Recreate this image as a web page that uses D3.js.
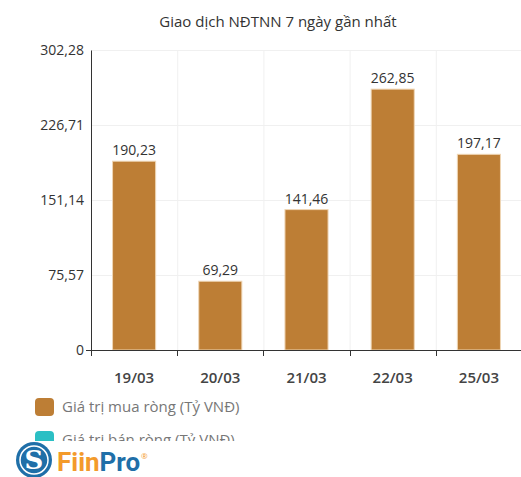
<!DOCTYPE html>
<html>
<head>
<meta charset="utf-8">
<script src="https://cdn.jsdelivr.net/npm/d3@7"></script>
<style>
  body { margin: 0; background: #fff; }
  svg { display: block; font-family: "Open Sans", "Noto Sans", sans-serif; }
</style>
</head>
<body>
<svg id="chart" width="521" height="477"></svg>
<script>
const dates = ["19/03", "20/03", "21/03", "22/03", "25/03"];
const buyValues = [190.23, 69.29, 141.46, 262.85, 197.17];
const yTicks = [0, 75.57, 151.14, 226.71, 302.28];
const seriesNames = ["Giá trị mua ròng (Tỷ VNĐ)", "Giá trị bán ròng (Tỷ VNĐ)"];
const seriesColors = ["#bd7e35", "#2bbfc4"];

const fmt = v => v === 0 ? "0" : d3.format(".2f")(v).replace(".", ",");

const svg = d3.select("#chart");
const margin = {top: 50, left: 91, bottom: 350, right: 522};

const x = d3.scaleBand()
    .domain(dates)
    .range([margin.left, margin.right])
    .paddingInner(0.5)
    .paddingOuter(0.25);

const y = d3.scaleLinear()
    .domain([0, d3.max(yTicks)])
    .range([margin.bottom, margin.top]);

// title
svg.append("text")
    .attr("x", 278)
    .attr("y", 27)
    .attr("text-anchor", "middle")
    .style("font-size", "15px")
    .style("fill", "#333")
    .text("Giao dịch NĐTNN 7 ngày gần nhất");

// grid
const grid = svg.append("g");
grid.selectAll(".hgrid")
    .data(yTicks.slice(1))
    .enter().append("line")
    .attr("x1", margin.left).attr("x2", margin.right)
    .attr("y1", d => y(d) + 0.5).attr("y2", d => y(d) + 0.5)
    .style("stroke", "#f0f0f0");
grid.selectAll(".vgrid")
    .data(dates.slice(1))
    .enter().append("line")
    .attr("x1", d => x(d) - x.step() * x.paddingInner() / 2 + 0.5)
    .attr("x2", d => x(d) - x.step() * x.paddingInner() / 2 + 0.5)
    .attr("y1", margin.top).attr("y2", margin.bottom)
    .style("stroke", "#f0f0f0");

// bars
svg.selectAll(".bar")
    .data(buyValues)
    .enter().append("rect")
    .attr("class", "bar")
    .attr("x", (d, i) => x(dates[i]))
    .attr("y", d => y(d))
    .attr("width", x.bandwidth())
    .attr("height", d => y(0) - y(d))
    .style("fill", seriesColors[0])
    .style("stroke", "#efd6b5")
    .style("stroke-width", 1);

// value labels
svg.selectAll(".val")
    .data(buyValues)
    .enter().append("text")
    .attr("x", (d, i) => x(dates[i]) + x.bandwidth() / 2)
    .attr("y", d => y(d) - 6)
    .attr("text-anchor", "middle")
    .style("font-size", "14px")
    .style("fill", "#333")
    .text(fmt);

// y axis
const yAxis = svg.append("g")
    .attr("transform", `translate(${margin.left},0)`)
    .call(d3.axisLeft(y).tickValues(yTicks).tickFormat(fmt).tickSize(0).tickPadding(7));
yAxis.select(".domain").style("stroke", "#333");
yAxis.selectAll("text")
    .style("font-size", "14px")
    .style("fill", "#333")
    .style("font-family", "\"Open Sans\", sans-serif");

// x axis
const bandEdges = dates.map(d => x(d) - x.step() * x.paddingInner() / 2);
const xAxis = svg.append("g")
    .attr("transform", `translate(0,${margin.bottom})`);
xAxis.append("line")
    .attr("x1", margin.left - 5).attr("x2", margin.right)
    .attr("y1", 0.5).attr("y2", 0.5)
    .style("stroke", "#333");
xAxis.selectAll(".tick")
    .data(bandEdges)
    .enter().append("line")
    .attr("x1", d => Math.round(d) + 0.5).attr("x2", d => Math.round(d) + 0.5)
    .attr("y1", 0).attr("y2", 6)
    .style("stroke", "#333");
xAxis.selectAll(".lbl")
    .data(dates)
    .enter().append("text")
    .attr("x", d => x(d) + x.bandwidth() / 2)
    .attr("y", 33)
    .attr("text-anchor", "middle")
    .style("font-size", "15px")
    .style("font-weight", "600")
    .style("fill", "#444")
    .text(d => d);

// legend, clipped like the reference
svg.append("clipPath").attr("id", "legclip")
    .append("rect").attr("x", 0).attr("y", 385).attr("width", 521).attr("height", 56);
const legend = svg.append("g").attr("clip-path", "url(#legclip)")
    .selectAll(".leg")
    .data(seriesNames)
    .enter().append("g")
    .attr("transform", (d, i) => `translate(35,${398 + i * 33})`);
legend.append("rect")
    .attr("width", 19).attr("height", 18)
    .attr("rx", 4)
    .style("fill", (d, i) => seriesColors[i]);
legend.append("text")
    .attr("x", 27).attr("y", 14)
    .style("font-size", "15px")
    .style("fill", "#777")
    .text(d => d);

// logo
const logo = svg.append("g").attr("transform", "translate(34,460)");
logo.append("circle").attr("r", 18).style("fill", "#1f6fa8");
logo.append("circle").attr("r", 14).style("fill", "none").style("stroke", "#fff").style("stroke-width", 1.5);
logo.append("text")
    .attr("y", 9).attr("text-anchor", "middle")
    .style("font-size", "26px").style("font-weight", "bold")
    .style("font-family", "\"DejaVu Serif\", serif")
    .style("fill", "#fff")
    .text("S");
const brand = svg.append("text")
    .attr("x", 57).attr("y", 471)
    .style("font-size", "26px").style("font-weight", "bold")
    .style("font-family", "Roboto, sans-serif");
brand.append("tspan").style("fill", "#f39a2b").text("Fiin");
brand.append("tspan").style("fill", "#1f6fa8").text("Pro");
svg.append("text")
    .attr("x", 141).attr("y", 459)
    .style("font-size", "8px")
    .style("fill", "#f39a2b")
    .text("®");
</script>
</body>
</html>
